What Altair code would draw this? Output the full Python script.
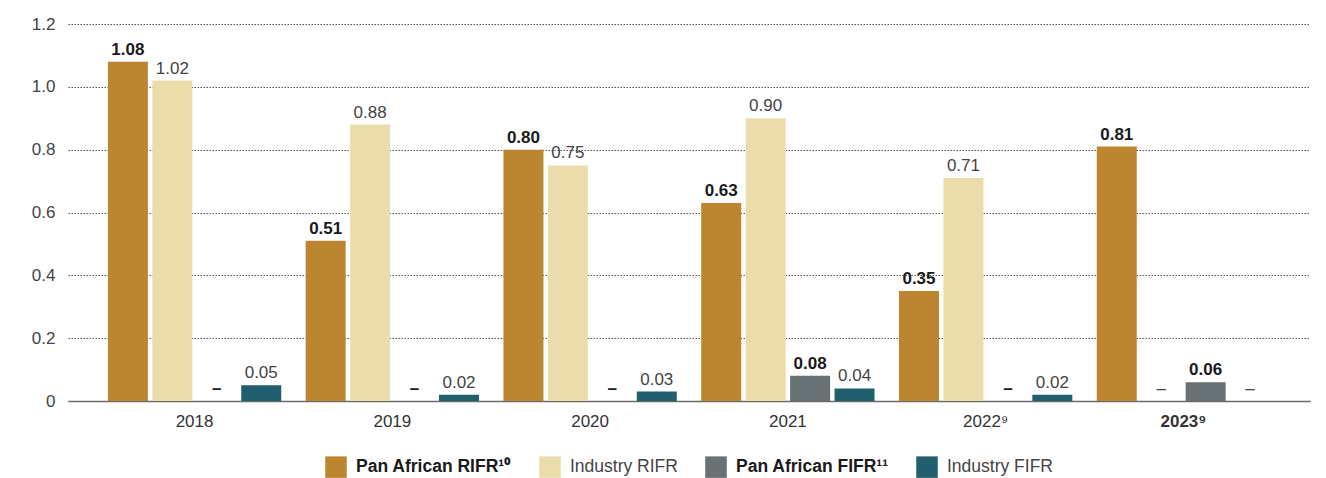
import altair as alt
import pandas as pd
import altair.utils.schemapi as _sp

# allow Vega-Lite's (undocumented) legend "encoding" block
if hasattr(_sp, "disable_debug_mode"):
    _sp.disable_debug_mode()
_sp.DEBUG_MODE = False

FONT = "Liberation Sans, Noto Sans"

years = ["2018", "2019", "2020", "2021", "2022⁹", "2023⁹"]
series = ["Pan African RIFR¹⁰", "Industry RIFR", "Pan African FIFR¹¹", "Industry FIFR"]
pa_rifr = [1.08, 0.51, 0.80, 0.63, 0.35, 0.81]
ind_rifr = [1.02, 0.88, 0.75, 0.90, 0.71, None]
pa_fifr = [None, None, None, 0.08, None, 0.06]
ind_fifr = [0.05, 0.02, 0.03, 0.04, 0.02, None]
colors = ["#BC8630", "#EBDDAB", "#687173", "#215E6E"]
bold_series = [True, False, True, False]
y_ticks = [0, 0.2, 0.4, 0.6, 0.8, 1.0, 1.2]

rows = []
for s, vals, b in zip(series, [pa_rifr, ind_rifr, pa_fifr, ind_fifr], bold_series):
    for yr, v in zip(years, vals):
        rows.append({
            "year": yr,
            "series": s,
            "value": v,
            "ypos": v if v is not None else 0.0,
            "label": f"{v:.2f}" if v is not None else "–",
            "bold": b,
        })
df = pd.DataFrame(rows)

x_enc = alt.X(
    "year:N", sort=years, title=None,
    scale=alt.Scale(paddingInner=0, paddingOuter=0.14),
    axis=alt.Axis(
        labelFont=FONT, labelFontSize=17, labelColor="#333",
        labelFontWeight={"condition": {"test": "datum.value == '2023⁹'", "value": "bold"}, "value": "normal"},
        labelPadding=12, ticks=False, domain=True, domainColor="#6b6b6b", domainWidth=1.5,
        labelAngle=0, grid=False,
    ),
)
xoff_enc = alt.XOffset(
    "series:N", sort=series,
    scale=alt.Scale(domain=series, paddingInner=0.1, paddingOuter=0.275),
)

y_axis = alt.Axis(
    values=y_ticks,
    labelExpr="datum.value == 0 ? '0' : format(datum.value, '.1f')",
    labelFont=FONT, labelFontSize=17, labelColor="#444", labelPadding=13,
    ticks=False, domain=False, grid=True, gridColor="#555555", gridWidth=1,
    gridDash={"condition": {"test": "datum.value == 0", "value": []}, "value": [1.5, 1.5]},
    minExtent=55, title=None,
)
y_scale = alt.Scale(domain=[0, 1.2], nice=False)

base = alt.Chart(df).encode(x=x_enc, xOffset=xoff_enc)

legend = alt.Legend(
    title=None, orient="none", legendX=257, legendY=432, direction="horizontal",
    symbolType="square", symbolSize=462, symbolStrokeWidth=0,
    symbolOpacity=1,
    labelFont=FONT, labelFontSize=17.5, labelColor="#444", labelOffset=9,
    columnPadding=27, padding=0,
    encoding={
        "labels": {
            "fontWeight": {"condition": {"test": "indexof(datum.value, 'Pan') >= 0", "value": "bold"}, "value": "normal"},
            "fill": {"condition": {"test": "indexof(datum.value, 'Pan') >= 0", "value": "#1a1a1a"}, "value": "#444444"},
        }
    },
)

bars = base.mark_bar().encode(
    y=alt.Y("value:Q", title=None, scale=y_scale, axis=y_axis),
    color=alt.Color("series:N", scale=alt.Scale(domain=series, range=colors), legend=legend),
)

labels_bold = base.transform_filter("datum.bold").mark_text(
    baseline="alphabetic", dy=-7, font=FONT, fontSize=17, fontWeight="bold", color="#1a1a1a",
).encode(y=alt.Y("ypos:Q", title=None, scale=y_scale, axis=y_axis), text="label:N")

labels_norm = base.transform_filter("!datum.bold").mark_text(
    baseline="alphabetic", dy=-7, font=FONT, fontSize=17, fontWeight="normal", color="#444",
).encode(y=alt.Y("ypos:Q", title=None, scale=y_scale, axis=y_axis), text="label:N")


class LayerNV(alt.LayerChart):
    def to_dict(self, *args, **kwargs):
        if args:
            args = args[1:]
        kwargs["validate"] = False
        return super().to_dict(*args, **kwargs)


chart = LayerNV(layer=[bars, labels_bold, labels_norm]).properties(
    width=1242, height=377,
    padding={"left": 5, "top": 7, "right": 8, "bottom": 5},
).configure(font=FONT, view={"stroke": None})

chart.save("out.html", embed_options={"renderer": "svg", "actions": False})
